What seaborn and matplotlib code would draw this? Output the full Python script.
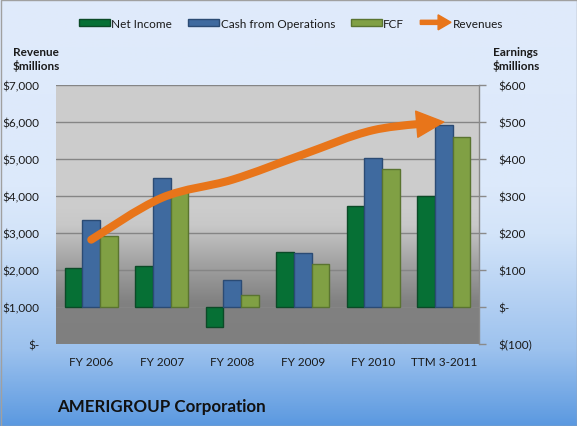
import numpy as np
import pandas as pd
import matplotlib
matplotlib.use('Agg')
import matplotlib.pyplot as plt
import seaborn as sns
from matplotlib.path import Path
from matplotlib.patches import PathPatch, FancyArrowPatch, Patch, FancyArrow, Rectangle
from matplotlib.legend_handler import HandlerPatch
from matplotlib.colors import LinearSegmentedColormap
from matplotlib.ticker import FuncFormatter, FixedLocator

# ---------------- data ----------------
categories = ['FY 2006', 'FY 2007', 'FY 2008', 'FY 2009', 'FY 2010', 'TTM 3-2011']
net_income = [105, 110, -55, 149, 274, 301]
cash_from_ops = [236, 350, 72, 146, 402, 493]
fcf = [193, 310, 33, 115, 373, 460]
revenues = [2820, 3950, 4440, 5120, 5780, 6000]
series_names = ['Net Income', 'Cash from Operations', 'FCF']
revenue_name = 'Revenues'
rev_ticks = [0, 1000, 2000, 3000, 4000, 5000, 6000, 7000]
earn_ticks = [-100, 0, 100, 200, 300, 400, 500, 600]
title = 'AMERIGROUP Corporation'
left_label = ['Revenue', '$millions']
right_label = ['Earnings', '$millions']

# ---------------- style ----------------
fills = ['#067035', '#3f6a9f', '#80a044']
edges = ['#0b4a27', '#2b4b74', '#5a7430']
ORANGE = '#e8751a'

sns.set_theme(style='white')
plt.rcParams['font.family'] = ['Lato', 'DejaVu Sans']
TXT = '#1a1a1a'

W, H = 577, 427
fig = plt.figure(figsize=(W / 100, H / 100), dpi=100)

# figure background gradient
bg = fig.add_axes([0, 0, 1, 1], zorder=-5)
bg.set_axis_off()
cmap_bg = LinearSegmentedColormap.from_list(
    'bg', [(0, '#5b99e0'), (0.18, '#9dc2ee'), (0.45, '#d3e4f9'), (0.56, '#dce9fb'), (1, '#e0ebfb')])
grad = np.linspace(0, 1, 256).reshape(-1, 1)
bg.imshow(grad, aspect='auto', cmap=cmap_bg, origin='lower', extent=[0, 1, 0, 1])
bg.set_xlim(0, 1); bg.set_ylim(0, 1)

# plot area
pos = [56 / W, (H - 345) / H, (479 - 56) / W, (345 - 86) / H]
pbg = fig.add_axes(pos, zorder=0)
pbg.set_axis_off()
cmap_p = LinearSegmentedColormap.from_list(
    'pa', [(0, '#7f7f7f'), (0.16, '#818181'), (0.32, '#a4a4a4'), (0.46, '#c8c8c8'), (0.52, '#cccccc'), (1, '#cdcdcd')])
pbg.imshow(grad, aspect='auto', cmap=cmap_p, origin='lower', extent=[0, 1, 0, 1])
pbg.set_xlim(0, 1); pbg.set_ylim(0, 1)

ax = fig.add_axes(pos, zorder=1)
ax.patch.set_visible(False)

df = pd.DataFrame({
    'category': categories * 3,
    'series': [s for s in series_names for _ in categories],
    'value': net_income + cash_from_ops + fcf,
})
sns.barplot(data=df, x='category', y='value', hue='series', hue_order=series_names,
            order=categories, palette=fills, width=0.75, ax=ax, legend=False,
            saturation=1, zorder=3)
for cont, ec in zip(ax.containers, edges):
    for bar in cont:
        bar.set_edgecolor(ec)
        bar.set_linewidth(1.0)

ax.set_xlim(-0.5, len(categories) - 0.5)
ax.set_ylim(earn_ticks[0], earn_ticks[-1])
ax.set_xlabel(''); ax.set_ylabel('')

# revenue axis (twin) -- created before fixing tick sides, since twinx resets them
ax2 = ax.twinx()
ax2.set_ylim(rev_ticks[0], rev_ticks[-1])

ax.yaxis.tick_right()
ax.yaxis.set_major_locator(FixedLocator(earn_ticks))


def earn_fmt(v, p):
    v = int(round(v))
    if v == 0:
        return '$-'
    if v < 0:
        return '$({:,})'.format(-v)
    return '${:,}'.format(v)


ax.yaxis.set_major_formatter(FuncFormatter(earn_fmt))
ax.yaxis.grid(True, color='#858585', lw=1)
ax.set_axisbelow(True)
for s in ['top', 'left', 'bottom']:
    ax.spines[s].set_visible(False)
ax.spines['right'].set_color('#8a8a8a')
ax.spines['right'].set_linewidth(1)
ax.tick_params(axis='y', which='major', right=True, left=False, labelright=True, labelleft=False,
               length=5, width=1, color='#8a8a8a', pad=9, labelsize=8.5, labelcolor=TXT)
ax.tick_params(axis='x', length=0, pad=9, labelsize=8.5, labelcolor=TXT)

ax2.yaxis.tick_left()
ax2.yaxis.set_major_locator(FixedLocator(rev_ticks))
ax2.yaxis.set_major_formatter(FuncFormatter(lambda v, p: '$-' if v == 0 else '${:,}'.format(int(v))))
ax2.tick_params(axis='y', length=0, pad=12, labelsize=8.5, labelcolor=TXT, left=False, right=False,
                labelleft=True, labelright=False)
for s in ax2.spines.values():
    s.set_visible(False)
ax2.grid(False)

# smooth revenue curve (Catmull-Rom -> cubic bezier) through the data points
xs = np.arange(len(revenues), dtype=float)
pts = np.column_stack([xs, np.array(revenues, dtype=float)])
ext = np.vstack([pts[0], pts, pts[-1]])
segs = []
for i in range(len(pts) - 1):
    p0, p1, p2, p3 = ext[i], ext[i + 1], ext[i + 2], ext[i + 3]
    segs.append((p1, p1 + (p2 - p0) / 6.0, p2 - (p3 - p1) / 6.0, p2))

# split last segment so the arrow head finishes it
t = 0.58
a0, a1, a2, a3 = segs[-1]
b01 = a0 + (a1 - a0) * t; b12 = a1 + (a2 - a1) * t; b23 = a2 + (a3 - a2) * t
c0 = b01 + (b12 - b01) * t; c1 = b12 + (b23 - b12) * t
split = c0 + (c1 - c0) * t
segs[-1] = (a0, b01, c0, split)

verts = [segs[0][0]]
codes = [Path.MOVETO]
for (_, q1, q2, q3) in segs:
    verts += [q1, q2, q3]
    codes += [Path.CURVE4] * 3
curve = PathPatch(Path(np.array(verts), codes), fill=False, edgecolor=ORANGE,
                  lw=5.8, capstyle='round', joinstyle='round', transform=ax2.transData, zorder=5)
ax2.add_patch(curve)
arrow = FancyArrowPatch(posA=tuple(split), posB=tuple(pts[-1]),
                        arrowstyle='simple,head_length=1.5,head_width=1.45,tail_width=0.45',
                        mutation_scale=13, color=ORANGE, transform=ax2.transData,
                        shrinkA=0, shrinkB=0, zorder=6)
ax2.add_patch(arrow)

# legend
handles = [Patch(facecolor=f, edgecolor=e, linewidth=1) for f, e in zip(fills, edges)]
rev_handle = Patch(color=ORANGE)
handles.append(rev_handle)
labels = series_names + [revenue_name]


def make_arrow(legend, orig_handle, xdescent, ydescent, width, height, fontsize):
    return FancyArrow(-xdescent, -ydescent + height / 2, width, 0, width=height * 0.55,
                      head_width=height * 2.0, head_length=width * 0.42,
                      length_includes_head=True)


fig.legend(handles, labels, loc='center', bbox_to_anchor=(291 / W, 1 - 24 / H), ncol=4,
           frameon=False, fontsize=8.5, handlelength=2.6, handleheight=0.6,
           handletextpad=0.15, columnspacing=1.35, labelcolor=TXT,
           handler_map={rev_handle: HandlerPatch(patch_func=make_arrow)})

# axis titles
fig.text(36 / W, 1 - 52 / H, left_label[0], ha='center', va='center', weight='bold', fontsize=8.5, color=TXT)
fig.text(36 / W, 1 - 66 / H, left_label[1], ha='center', va='center', weight='bold', fontsize=8.5, color=TXT)
fig.text(516 / W, 1 - 52 / H, right_label[0], ha='center', va='center', weight='bold', fontsize=8.5, color=TXT)
fig.text(516 / W, 1 - 66 / H, right_label[1], ha='center', va='center', weight='bold', fontsize=8.5, color=TXT)

fig.text(57 / W, 1 - 407 / H, title, ha='left', va='center', weight='bold', fontsize=12.2, color='#111111')

fig.add_artist(Rectangle((0.5 / W, 0.5 / H), 1 - 1 / W, 1 - 1 / H, transform=fig.transFigure,
                         fill=False, edgecolor='#a0a0a0', lw=1))

fig.savefig('out.png', dpi=100)
